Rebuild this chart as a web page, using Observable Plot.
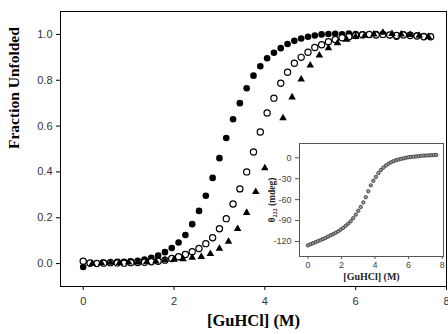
<!DOCTYPE html>
<html>
<head>
<meta charset="utf-8">
<script src="https://cdn.jsdelivr.net/npm/d3@7"></script>
<script src="https://cdn.jsdelivr.net/npm/@observablehq/plot@0.6"></script>
<style>
  html, body { margin: 0; padding: 0; background: #fff; }
  #wrap { position: relative; width: 448px; height: 334px; overflow: hidden; }
  #inset { position: absolute; left: 268px; top: 138px; }
</style>
</head>
<body>
<div id="wrap"><div id="main"></div><div id="inset"></div></div>
<script>
// ---- Main chart data ----
const filledX = [0,0.15,0.3,0.45,0.6,0.75,0.9,1.05,1.2,1.35,1.5,1.65,1.8,1.95,2.1,2.25,2.4,2.55,2.7,2.85,3.0,3.15,3.3,3.45,3.6,3.75,3.9,4.05,4.2,4.35,4.5,4.65,4.8,4.95,5.1,5.25,5.4,5.55,5.7,5.85,6.0,6.15,6.3,6.45,6.6,6.75,6.9,7.05,7.2,7.35,7.5,7.65];
const filledY = [-0.015,0.0,0.002,0.004,0.005,0.008,0.008,0.01,0.012,0.018,0.025,0.035,0.05,0.068,0.092,0.125,0.172,0.23,0.296,0.374,0.46,0.548,0.63,0.70,0.765,0.82,0.861,0.896,0.92,0.94,0.958,0.972,0.982,0.99,0.995,1.0,1.002,1.003,1.0,1.004,1.002,1.0,0.998,1.002,1.0,0.996,0.99,1.0,0.998,0.995,0.993,0.99];

const openX = [0,0.15,0.3,0.45,0.6,0.75,0.9,1.05,1.2,1.35,1.5,1.65,1.8,1.95,2.1,2.25,2.4,2.55,2.7,2.85,3.0,3.15,3.3,3.45,3.6,3.75,3.9,4.05,4.2,4.35,4.5,4.65,4.8,4.95,5.1,5.25,5.4,5.55,5.7,5.85,6.0,6.15,6.3,6.45,6.6,6.75,6.9,7.05,7.2,7.35,7.5,7.65];
const openY = [0.01,0.003,0.0,0.002,0.004,0.003,0.002,0.004,0.005,0.006,0.008,0.01,0.015,0.022,0.03,0.04,0.052,0.066,0.087,0.113,0.152,0.196,0.26,0.326,0.40,0.487,0.574,0.657,0.722,0.787,0.835,0.874,0.90,0.922,0.943,0.955,0.968,0.978,0.985,0.99,0.995,0.998,1.0,0.997,1.0,0.998,0.995,0.998,0.995,0.993,0.99,0.99];

const triX = [0.2,0.4,0.6,0.8,1.0,1.2,1.4,1.6,1.8,2.0,2.2,2.4,2.6,2.8,3.0,3.2,3.4,3.6,3.8,4.0,4.2,4.4,4.6,4.8,5.0,5.2,5.4,5.6,5.8,6.0,6.2,6.4,6.6,6.8,7.0,7.2,7.4,7.6];
const triY = [0.0,0.002,0.004,0.003,0.005,0.006,0.008,0.01,0.015,0.018,0.02,0.026,0.03,0.043,0.065,0.096,0.152,0.222,0.313,0.417,0.526,0.635,0.726,0.804,0.865,0.909,0.94,0.962,0.978,0.99,0.995,1.0,1.008,1.003,1.0,0.998,0.995,0.99];

const xTicks = [0, 2, 4, 6, 8];
const yTicks = [0, 0.2, 0.4, 0.6, 0.8, 1.0];
const xLabel = "[GuHCl] (M)";
const yLabel = "Fraction Unfolded";

// ---- Inset data ----
const insetX = [0,0.15,0.3,0.45,0.6,0.75,0.9,1.05,1.2,1.35,1.5,1.65,1.8,1.95,2.1,2.25,2.4,2.55,2.7,2.85,3.0,3.15,3.3,3.45,3.6,3.75,3.9,4.05,4.2,4.35,4.5,4.65,4.8,4.95,5.1,5.25,5.4,5.55,5.7,5.85,6.0,6.15,6.3,6.45,6.6,6.75,6.9,7.05,7.2,7.35,7.5,7.65];
const insetY = [-125.5,-124,-122.5,-121,-119.5,-118,-116.5,-115,-113,-111,-109.5,-107.5,-105.5,-103,-100.5,-97.5,-94.5,-91,-86.5,-81.5,-76,-70.5,-64,-56.5,-48,-39.5,-33,-27.5,-22,-17.5,-14,-11,-8.5,-6.5,-4.8,-3.5,-2.5,-1.5,-0.8,0,0.8,1.2,1.6,2.0,2.4,2.8,3.1,3.3,3.5,3.7,3.9,4.1];
const insetXTicks = [0, 2, 4, 6, 8];
const insetYTicks = [0, -30, -60, -90, -120];
const insetXLabel = "[GuHCl] (M)";

const toPts = (xs, ys) => xs.map((x, i) => ({x, y: ys[i]}));
const filled = toPts(filledX, filledY);
const open = toPts(openX, openY);
const tri = toPts(triX, triY);
const insetPts = toPts(insetX, insetY);

const serif = "'Liberation Serif', 'Times New Roman', serif";
const sans = "'Liberation Sans', Arial, sans-serif";

const main = Plot.plot({
  width: 448, height: 334,
  marginLeft: 60, marginRight: 2, marginTop: 11, marginBottom: 48,
  x: {domain: [-0.5, 8]},
  y: {domain: [-0.1, 1.1]},
  style: {fontFamily: sans, fontSize: "11px", background: "white", color: "#333"},
  marks: [
    Plot.frame({stroke: "#000", strokeWidth: 1}),
    Plot.axisX({ticks: xTicks, tickSize: 4, tickPadding: 7, tickFormat: d => String(d), label: null, stroke: "#000"}),
    Plot.axisY({ticks: yTicks, tickSize: 4, tickPadding: 4, tickFormat: d3.format(".1f"), label: null, stroke: "#000"}),
    Plot.dot(filled, {x: "x", y: "y", r: 3.3, fill: "#000", stroke: "none"}),
    Plot.dot(open, {x: "x", y: "y", r: 3.1, fill: "#fff", stroke: "#000", strokeWidth: 1.2}),
    Plot.dot(tri, {x: "x", y: "y", symbol: "triangle", r: 2.8, fill: "#000", stroke: "none"}),
    Plot.text([xLabel], {text: d => d, frameAnchor: "bottom", dy: 39, fontSize: 16.5, fontWeight: "bold", fontFamily: serif, fill: "#000"}),
    Plot.text([yLabel], {text: d => d, frameAnchor: "left", dx: -46, rotate: -90, fontSize: 15.5, fontWeight: "bold", fontFamily: serif, fill: "#000"})
  ]
});
document.getElementById("main").appendChild(main);

const inset = Plot.plot({
  width: 178, height: 148,
  marginLeft: 31, marginRight: 3, marginTop: 5, marginBottom: 30,
  x: {domain: [-0.5, 8.08]},
  y: {domain: [-141.5, 20.5]},
  style: {fontFamily: sans, fontSize: "9px", background: "white", color: "#444"},
  marks: [
    Plot.frame({stroke: "#555", strokeWidth: 1}),
    Plot.axisX({ticks: insetXTicks, tickSize: 3, tickPadding: 2, tickFormat: d => String(d), label: null, stroke: "#555"}),
    Plot.axisY({ticks: insetYTicks, tickSize: 4, tickPadding: 4, tickFormat: d => String(d), label: null, stroke: "#555"}),
    Plot.dot(insetPts, {x: "x", y: "y", r: 1.7, fill: "#999", stroke: "#333", strokeWidth: 0.8}),
    Plot.text([insetXLabel], {text: d => d, frameAnchor: "bottom", dy: 23, fontSize: 10, fontWeight: "bold", fontFamily: serif, fill: "#222"})
  ]
});
document.getElementById("inset").appendChild(inset);

// Inset y label with subscript (real text)
const svgI = d3.select(inset.tagName.toLowerCase() === "svg" ? inset : inset.querySelector("svg"));
const lab = svgI.append("text")
  .attr("transform", "translate(4,62) rotate(-90)")
  .attr("text-anchor", "middle")
  .attr("dominant-baseline", "central")
  .attr("font-family", serif)
  .attr("font-weight", "bold")
  .attr("font-size", 9.5)
  .attr("fill", "#222");
lab.append("tspan").text("θ");
lab.append("tspan").attr("font-size", 6).attr("dy", 3).text("222");
lab.append("tspan").attr("dy", -3).text(" (mdeg)");
</script>
</body>
</html>
